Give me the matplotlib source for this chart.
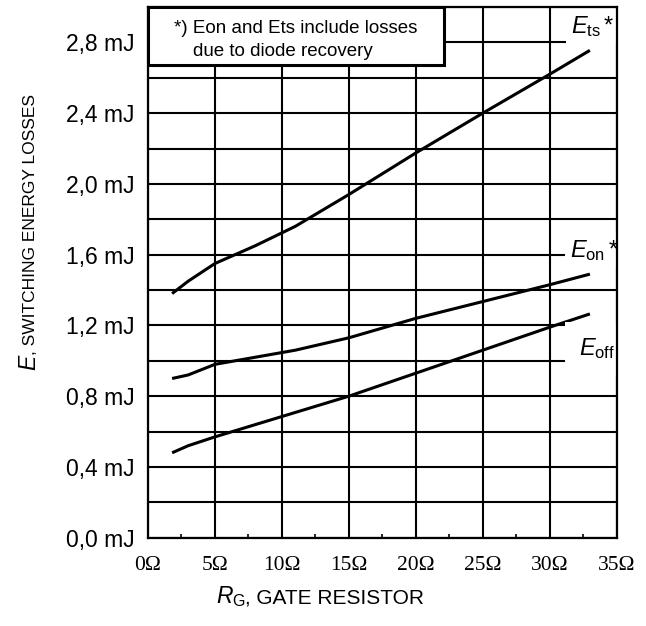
import matplotlib
matplotlib.use("Agg")
import matplotlib.pyplot as plt
from matplotlib.patches import Rectangle
from matplotlib.ticker import MultipleLocator

plt.rcParams['font.family'] = ['Liberation Sans', 'DejaVu Sans']
plt.rcParams['mathtext.fontset'] = 'custom'
plt.rcParams['mathtext.rm'] = 'Liberation Sans'
plt.rcParams['mathtext.it'] = 'Liberation Sans:italic'
plt.rcParams['mathtext.bf'] = 'Liberation Sans:bold'

# ---- data ----
r_ts = [1.8, 3, 5, 8, 11, 15, 20, 25, 30, 33]
e_ts = [1.38, 1.45, 1.55, 1.65, 1.76, 1.94, 2.175, 2.40, 2.62, 2.755]

r_on = [1.8, 3, 5, 11, 15, 20, 25, 30, 33]
e_on = [0.90, 0.92, 0.98, 1.06, 1.13, 1.24, 1.335, 1.43, 1.49]

r_off = [1.8, 3, 5, 10, 15, 20, 25, 30, 33]
e_off = [0.48, 0.52, 0.57, 0.685, 0.80, 0.93, 1.06, 1.19, 1.265]

x_ticks = [0, 5, 10, 15, 20, 25, 30, 35]
x_ticklabels = ['0Ω', '5Ω', '10Ω', '15Ω', '20Ω', '25Ω', '30Ω', '35Ω']
y_ticks = [0.0, 0.4, 0.8, 1.2, 1.6, 2.0, 2.4, 2.8]
y_ticklabels = ['0,0 mJ', '0,4 mJ', '0,8 mJ', '1,2 mJ', '1,6 mJ', '2,0 mJ', '2,4 mJ', '2,8 mJ']

curve_labels = [r'$\mathit{E}_{\mathrm{ts}}\,$*', r'$\mathit{E}_{\mathrm{on}}\,$*', r'$\mathit{E}_{\mathrm{off}}$']
note_line1 = '*) Eon and Ets include losses'
note_line2 = 'due to diode recovery'

# ---- figure ----
W, H = 646, 626
fig = plt.figure(figsize=(W / 100, H / 100), dpi=100)
ax = fig.add_axes([148 / W, 1 - 537.7 / H, (616.7 - 148) / W, (537.7 - 7) / H])

ax.set_xlim(0, 35)
ax.set_ylim(0, 3.0)

ax.set_xticks(x_ticks)
ax.set_xticklabels(x_ticklabels, fontfamily='Liberation Serif', fontsize=15.5)
ax.set_yticks(y_ticks)
ax.set_yticklabels(y_ticklabels, fontsize=16.5)
ax.xaxis.set_minor_locator(MultipleLocator(2.5))
ax.yaxis.set_minor_locator(MultipleLocator(0.2))

ax.tick_params(axis='both', which='major', length=0)
ax.tick_params(axis='x', which='major', pad=13)
ax.tick_params(axis='y', which='major', pad=9.5)
ax.tick_params(axis='x', which='minor', direction='in', length=3, width=1.2, color='black')
ax.tick_params(axis='y', which='minor', length=0)

ax.set_axisbelow(True)
ax.grid(which='major', axis='both', color='black', lw=1.5)
ax.grid(which='minor', axis='y', color='black', lw=1.5)
for s in ax.spines.values():
    s.set_linewidth(1.6)
    s.set_zorder(5)

for xs, ys in [(r_ts, e_ts), (r_on, e_on), (r_off, e_off)]:
    ax.plot(xs, ys, color='black', lw=2.2, solid_capstyle='butt', zorder=2)

# curve labels (white background covers gridlines)
lab_pos = [(31.6, 2.851, 0.2), (31.5, 1.586, 0.2), (32.2, 1.032, 0.62)]
for txt, (lx, ly, pad) in zip(curve_labels, lab_pos):
    ax.text(lx, ly, txt, fontsize=17, ha='left', va='baseline', zorder=2.4,
            clip_on=True,
            bbox=dict(boxstyle=f'square,pad={pad}', facecolor='white', edgecolor='none'))

# note box
ax.add_patch(Rectangle((0, 0.8907), 0.631, 0.1093, transform=ax.transAxes,
                       facecolor='white', edgecolor='black', lw=2.2, zorder=3,
                       clip_on=False))
ax.text(0.315, 0.951, note_line1, transform=ax.transAxes, ha='center',
        va='baseline', fontsize=13.5, zorder=4)
ax.text(0.0954, 0.9077, note_line2, transform=ax.transAxes, ha='left',
        va='baseline', fontsize=13.5, zorder=4)

# y label (rotated, pieces chained)
t1 = fig.text(35 / W, (H - 370) / H, 'E', fontsize=16.5, style='italic',
              rotation=90, rotation_mode='anchor', ha='left', va='baseline')
ax.annotate(', SWITCHING ENERGY LOSSES', xy=(35, 1), xycoords=('figure pixels', t1),
            fontsize=12.5, rotation=90, rotation_mode='anchor', ha='left',
            va='baseline', annotation_clip=False)

# x label (pieces chained)
x1 = fig.text(216 / W, (H - 603) / H, 'R', fontsize=16.5, style='italic',
              ha='left', va='baseline')
x2 = ax.annotate('G', xy=(1, 0), xycoords=x1, xytext=(0, -1),
                 textcoords='offset points', fontsize=11.5, ha='left', va='bottom',
                 annotation_clip=False)
ax.annotate(', GATE RESISTOR', xy=(1, 0), xycoords=x2, xytext=(0, 1),
            textcoords='offset points', fontsize=15, ha='left', va='bottom',
            annotation_clip=False)

fig.savefig('out.png', dpi=100)
